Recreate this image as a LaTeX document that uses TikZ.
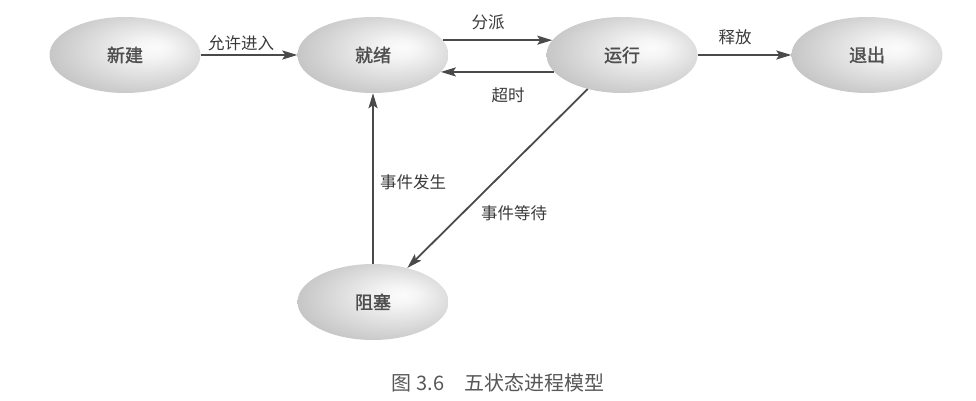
\documentclass[tikz,border=0pt]{standalone}
\usepackage{fontspec}
\setmainfont{Noto Sans CJK SC}
\newfontfamily\statefont[FakeBold=1.6]{Noto Sans CJK SC}
\usetikzlibrary{shapes.geometric,arrows.meta}
\pgfdeclareradialshading{stateshade}{\pgfpoint{10bp}{5bp}}{color(0bp)=(white!97!gray); color(6bp)=(white!92!gray); color(30bp)=(gray!45!white); color(48bp)=(gray!88!white); color(55bp)=(gray!92!white)}
\definecolor{txt}{HTML}{3A3A3A}
\definecolor{ln}{HTML}{4A4A4A}
\tikzset{
  state/.style={ellipse, minimum width=151pt, minimum height=76pt, inner sep=0pt, shading=stateshade, text=txt!90!white, font=\statefont\fontsize{18}{21}\selectfont},
  conn/.style={draw=ln, line width=1.8pt, -{Stealth[length=15pt,width=9pt,inset=3pt]}},
  lbl/.style={text=txt, font=\fontsize{16.5}{19}\selectfont, inner sep=1pt},
  captext/.style={text=txt!85!white, font=\fontsize{20}{23}\selectfont}
}
\begin{document}
\begin{tikzpicture}[x=1pt,y=-1pt]
\useasboundingbox (0,0) rectangle (976,401);
\node[state] (new) at (125,55) {新建};
\node[state] (ready) at (373,55) {就绪};
\node[state] (run) at (622,55) {运行};
\node[state] (exit) at (867,55) {退出};
\node[state] (blk) at (373,302) {阻塞};
\draw[conn] (new) -- (ready);
\draw[conn] (ready.12) -- (run.168);
\draw[conn] (run.194) -- (ready.-14);
\draw[conn] (run) -- (exit);
\draw[conn] (run) -- (blk);
\draw[conn] (blk) -- (ready);
\node[lbl] (l1) at (241,43) {允许进入};
\node[lbl] (l2) at (488,22) {分派};
\node[lbl] (l3) at (508,95) {超时};
\node[lbl] (l4) at (735,37) {释放};
\node[lbl] (l5) at (413,182) {事件发生};
\node[lbl] (l6) at (514,213) {事件等待};
\node[captext] (caption) at (498,383) {图 3.6\hspace{1em}五状态进程模型};
\end{tikzpicture}
\end{document}
